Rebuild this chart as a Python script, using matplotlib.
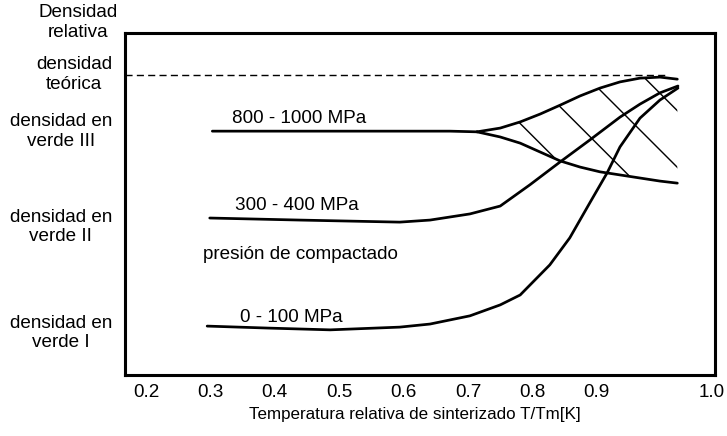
import numpy as np
import matplotlib.pyplot as plt

plt.rcParams['font.family'] = ['Liberation Sans', 'DejaVu Sans']
plt.rcParams['hatch.linewidth'] = 0.6

# Temperatura relativa T/Tm (eje x, tal como esta dibujado) y densidad relativa (0..1, escala del esquema)
t_0_100 = [0.295, 0.393, 0.486, 0.594, 0.641, 0.703, 0.750, 0.781, 0.827, 0.858, 0.889, 0.916, 0.936, 0.967, 0.998, 1.026]
d_0_100 = [0.143, 0.137, 0.132, 0.140, 0.149, 0.173, 0.205, 0.234, 0.322, 0.401, 0.503, 0.591, 0.667, 0.751, 0.804, 0.839]

t_300_400 = [0.299, 0.439, 0.594, 0.641, 0.703, 0.750, 0.796, 0.843, 0.889, 0.936, 0.967, 0.998, 1.026]
d_300_400 = [0.459, 0.453, 0.447, 0.453, 0.471, 0.494, 0.556, 0.623, 0.687, 0.754, 0.792, 0.825, 0.845]

# 800-1000 MPa: tramo plano y luego banda (max / min)
t_800_flat = [0.303, 0.439, 0.594, 0.672, 0.714]
d_800_flat = [0.713, 0.713, 0.713, 0.713, 0.711]
t_800_band = [0.714, 0.750, 0.781, 0.812, 0.843, 0.874, 0.905, 0.936, 0.967, 0.998, 1.025]
d_800_max = [0.711, 0.722, 0.740, 0.763, 0.789, 0.816, 0.839, 0.857, 0.868, 0.871, 0.865]
d_800_min = [0.711, 0.696, 0.678, 0.652, 0.626, 0.608, 0.594, 0.585, 0.576, 0.567, 0.561]

d_teorica = 0.877

x_ticks = [0.2, 0.3, 0.4, 0.5, 0.6, 0.7, 0.8, 0.9, 1.079]
x_labels = ['0.2', '0.3', '0.4', '0.5', '0.6', '0.7', '0.8', '0.9', '1.0']
y_ticks = [0.132, 0.442, 0.722, 0.889]
y_labels = ['densidad en\nverde I', 'densidad en\nverde II', 'densidad en\nverde III', 'densidad\nteórica']

fig = plt.figure(figsize=(727 / 170, 436 / 170), dpi=170)
ax = fig.add_axes([125 / 727, 1 - 375 / 436, 590 / 727, 342 / 436])
ax.set_xlim(0.1674, 1.0835)
ax.set_ylim(0, 1)

lw = 1.15
ax.plot(t_0_100, d_0_100, color='black', lw=lw, solid_capstyle='round')
ax.plot(t_300_400, d_300_400, color='black', lw=lw, solid_capstyle='round')
ax.plot(t_800_flat, d_800_flat, color='black', lw=lw, solid_capstyle='round')
ax.plot(t_800_band, d_800_max, color='black', lw=lw, solid_capstyle='round')
ax.plot(t_800_band, d_800_min, color='black', lw=lw, solid_capstyle='round')
ax.fill_between(t_800_band, d_800_min, d_800_max, facecolor='none', edgecolor='black', hatch='\\', linewidth=0)
ax.plot([0.1674, 1.009], [d_teorica, d_teorica], color='black', lw=0.6, ls=(0, (5, 3)))

fs = 8
ax.text(0.3335, 0.751, '800 - 1000 MPa', fontsize=fs, va='center')
ax.text(0.338, 0.497, '300 - 400 MPa', fontsize=fs, va='center')
ax.text(0.2885, 0.351, 'presión de compactado', fontsize=fs, va='center')
ax.text(0.346, 0.167, '0 - 100 MPa', fontsize=fs, va='center')

ax.set_xticks(x_ticks)
ax.set_xticklabels(x_labels, fontsize=fs)
ax.set_yticks(y_ticks)
ax.set_yticklabels(y_labels, fontsize=fs, multialignment='center')
ax.tick_params(axis='both', length=0)
ax.tick_params(axis='x', pad=4.0)
ax.tick_params(axis='y', pad=5.5)

ax.set_xlabel('Temperatura relativa de sinterizado T/Tm[K]', fontsize=7.2)
ax.xaxis.set_label_coords(0.4915, -0.094)

ax.text(-0.012, 1.03, 'Densidad\nrelativa', transform=ax.transAxes, fontsize=fs,
        ha='right', va='center', multialignment='center')

for s in ax.spines.values():
    s.set_linewidth(1.3)

fig.savefig('out.png', dpi=170)
